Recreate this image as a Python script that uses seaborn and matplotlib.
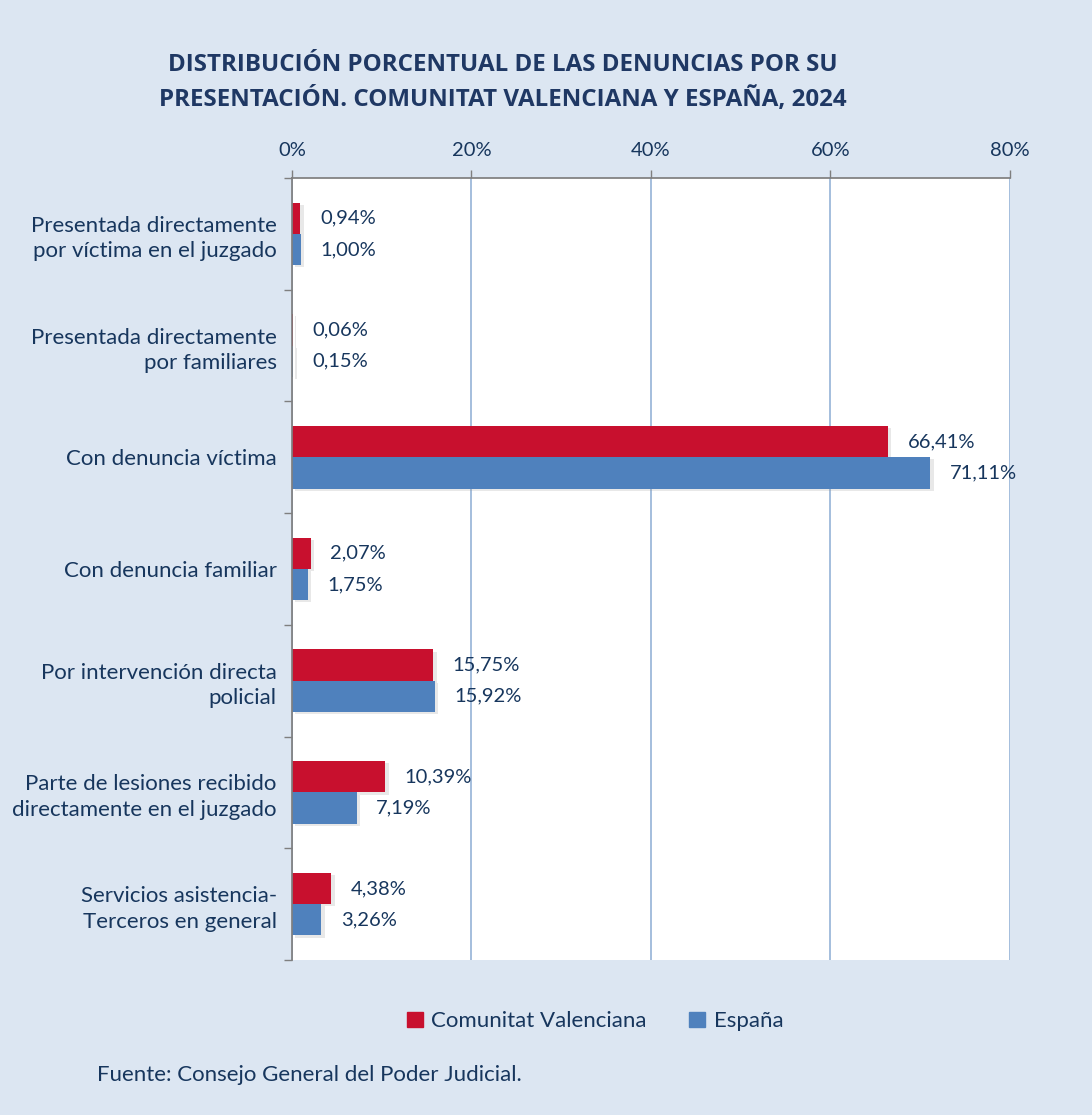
#!/usr/bin/env python
'''
Distribución porcentual de las denuncias por su presentación, 2024
'''
import pandas as pd
import matplotlib.pyplot as plt
import matplotlib.ticker as mticker
import matplotlib.patheffects as pe
import seaborn as sns

# data
categories = [
    'Presentada directamente\npor víctima en el juzgado',
    'Presentada directamente\npor familiares',
    'Con denuncia víctima',
    'Con denuncia familiar',
    'Por intervención directa\npolicial',
    'Parte de lesiones recibido\ndirectamente en el juzgado',
    'Servicios asistencia-\nTerceros en general',
]
valenciana = [0.94, 0.06, 66.41, 2.07, 15.75, 10.39, 4.38]
espana = [1.00, 0.15, 71.11, 1.75, 15.92, 7.19, 3.26]
series = ['Comunitat Valenciana', 'España']
x_ticks = [0, 20, 40, 60, 80]

BG = '#dce6f2'
NAVY = '#1f3864'
TEXT = '#17365d'
RED = '#c8102e'
BLUE = '#4f81bd'

df = pd.DataFrame({
    'categoria': categories * 2,
    'valor': valenciana + espana,
    'serie': [series[0]] * len(categories) + [series[1]] * len(categories),
})

sns.set_theme(style='white')
plt.rcParams['font.family'] = ['Lato', 'DejaVu Sans']

fig = plt.figure(figsize=(10.92, 11.15), dpi=100, facecolor=BG)
ax = fig.add_axes([0.2674, 0.139, 0.6575, 0.7014])
ax.set_facecolor('white')

sns.barplot(data=df, x='valor', y='categoria', hue='serie', orient='h',
            palette=[RED, BLUE], width=0.56, saturation=1, linewidth=0,
            order=categories, hue_order=series, legend=False, ax=ax)

# soft shadow on the bars, as in the original
for patch in ax.patches:
    patch.set_path_effects([
        pe.SimplePatchShadow(offset=(2.5, -1.5), shadow_rgbFace='#909090',
                             alpha=0.2),
        pe.Normal()])

# data labels
for cont in ax.containers:
    labels = [f'{v:.2f}%'.replace('.', ',') for v in cont.datavalues]
    ax.bar_label(cont, labels=labels, padding=14, fontsize=14.5, color=TEXT)

ax.set_xlim(0, 80)
ax.set_ylim(len(categories) - 0.5, -0.5)
ax.set_xticks(x_ticks)
ax.xaxis.set_major_formatter(mticker.FuncFormatter(lambda v, p: f'{v:.0f}%'))
ax.xaxis.tick_top()
ax.tick_params(axis='x', colors='#7f7f7f', labelcolor=TEXT, labelsize=14.5,
               length=6, width=1, direction='out', pad=8)
ax.xaxis.grid(True, color='#95b3d7', linewidth=1.2)
ax.set_axisbelow(True)

# category separators on the left axis
ax.set_yticks(range(len(categories)))
ax.set_yticklabels(categories, fontsize=16, color=TEXT, linespacing=1.35)
ax.set_yticks([i - 0.5 for i in range(len(categories) + 1)], minor=True)
ax.tick_params(axis='y', which='major', length=0, pad=11)
ax.tick_params(axis='y', which='minor', length=6, width=1, color='#7f7f7f',
               direction='out', left=True)
ax.set_xlabel('')
ax.set_ylabel('')

for side in ['right', 'bottom']:
    ax.spines[side].set_visible(False)
ax.spines['left'].set_color('#7f7f7f')
ax.spines['top'].set_color('#7f7f7f')

fig.text(0.46, 0.926, 'DISTRIBUCIÓN PORCENTUAL DE LAS DENUNCIAS POR SU\n'
         'PRESENTACIÓN. COMUNITAT VALENCIANA Y ESPAÑA, 2024',
         ha='center', va='center', fontsize=17.4, fontweight='bold',
         family=['Open Sans', 'DejaVu Sans'], color=NAVY, linespacing=1.5)

handles = [plt.Rectangle((0, 0), 1, 1, color=c) for c in [RED, BLUE]]
fig.legend(handles, series, loc='center', bbox_to_anchor=(0.545, 0.084),
           ncol=2, frameon=False, fontsize=16, handlelength=0.7,
           handleheight=0.7, handletextpad=0.4, columnspacing=1.9,
           labelcolor=TEXT)

fig.text(0.089, 0.036, 'Fuente: Consejo General del Poder Judicial.',
         fontsize=16, color=TEXT, va='center')

fig.savefig('out.png', dpi=100, facecolor=BG)
